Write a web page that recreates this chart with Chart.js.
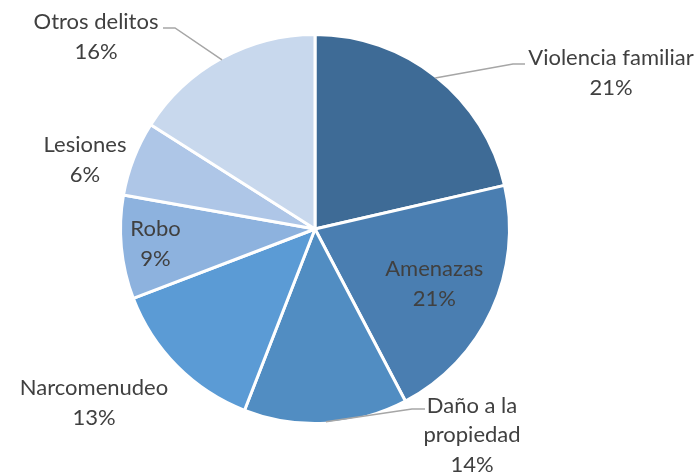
<!DOCTYPE html>
<html>
<head>
<meta charset="utf-8">
<script src="https://cdn.jsdelivr.net/npm/chart.js@4"></script>
<style>
    html, body { margin: 0; padding: 0; background: #ffffff; }
    #wrap { width: 699px; height: 472px; }
</style>
</head>
<body>
<div id="wrap"><canvas id="delitos-chart" width="699" height="472"></canvas></div>
<script>
var categories = ['Violencia familiar', 'Amenazas', 'Daño a la propiedad', 'Narcomenudeo', 'Robo', 'Lesiones', 'Otros delitos'];
var shares = [21.4, 20.9, 13.6, 13.3, 8.6, 6.2, 16.0];
var sliceColors = ['#3e6b96', '#4a7eb1', '#518dc2', '#5b9bd5', '#8db2de', '#aec6e7', '#c8d8ed'];

// where each label goes, px from the pie centre (inside labels use the slice mid angle)
var labelLayout = [
    { lines: ['Violencia familiar'], dx: 296, dy: -156, leader: [198, -165, 210, -165] },
    { lines: ['Amenazas'], inside: 0.68 },
    { lines: ['Daño a la', 'propiedad'], dx: 157, dy: 206, leader: [97, 180, 110, 180] },
    { lines: ['Narcomenudeo'], dx: -221, dy: 174 },
    { lines: ['Robo'], inside: 0.83 },
    { lines: ['Lesiones'], dx: -230, dy: -69 },
    { lines: ['Otros delitos'], dx: -219, dy: -192, leader: [-140, -201, -152, -201] }
];

var pieLabels = {
    id: 'pieLabels',
    afterDatasetsDraw: function(chart) {
        var ctx = chart.ctx;
        var meta = chart.getDatasetMeta(0);
        var data = chart.data.datasets[0].data;
        var total = data.reduce(function(a, b) { return a + b; }, 0);
        ctx.save();
        ctx.font = '22px Lato';
        ctx.fillStyle = '#404040';
        ctx.textAlign = 'center';
        ctx.textBaseline = 'middle';
        meta.data.forEach(function(arc, i) {
            var p = arc.getProps(['x', 'y', 'startAngle', 'endAngle', 'outerRadius'], true);
            var mid = (p.startAngle + p.endAngle) / 2;
            var r = p.outerRadius - 1.5;
            var lay = labelLayout[i];
            var cx, cy;
            if (lay.inside) {
                cx = p.x + Math.cos(mid) * r * lay.inside;
                cy = p.y + Math.sin(mid) * r * lay.inside;
            } else {
                cx = p.x + lay.dx;
                cy = p.y + lay.dy;
            }
            if (lay.leader) {
                ctx.beginPath();
                ctx.strokeStyle = '#a6a6a6';
                ctx.lineWidth = 1.5;
                ctx.moveTo(p.x + Math.cos(mid) * r, p.y + Math.sin(mid) * r);
                ctx.lineTo(p.x + lay.leader[0], p.y + lay.leader[1]);
                ctx.lineTo(p.x + lay.leader[2], p.y + lay.leader[3]);
                ctx.stroke();
            }
            var lines = lay.lines.concat([Math.round(data[i] / total * 100) + '%']);
            var lh = 29.5;
            var y0 = cy - (lines.length - 1) * lh / 2;
            lines.forEach(function(t, k) {
                ctx.fillText(t, cx, y0 + k * lh);
            });
        });
        ctx.restore();
    }
};

var dc = document.getElementById('delitos-chart').getContext('2d');
var myPieChart = new Chart(dc, {
    type: 'pie',
    data: {
        labels: categories,
        datasets: [{
            data: shares,
            backgroundColor: sliceColors,
            borderColor: '#ffffff',
            borderWidth: 3
        }]
    },
    options: {
        responsive: false,
        animation: false,
        layout: {
            padding: { left: 119, right: 188, top: 33, bottom: 47 }
        },
        plugins: {
            legend: { display: false },
            tooltip: { enabled: false }
        }
    },
    plugins: [pieLabels]
});
</script>
</body>
</html>
